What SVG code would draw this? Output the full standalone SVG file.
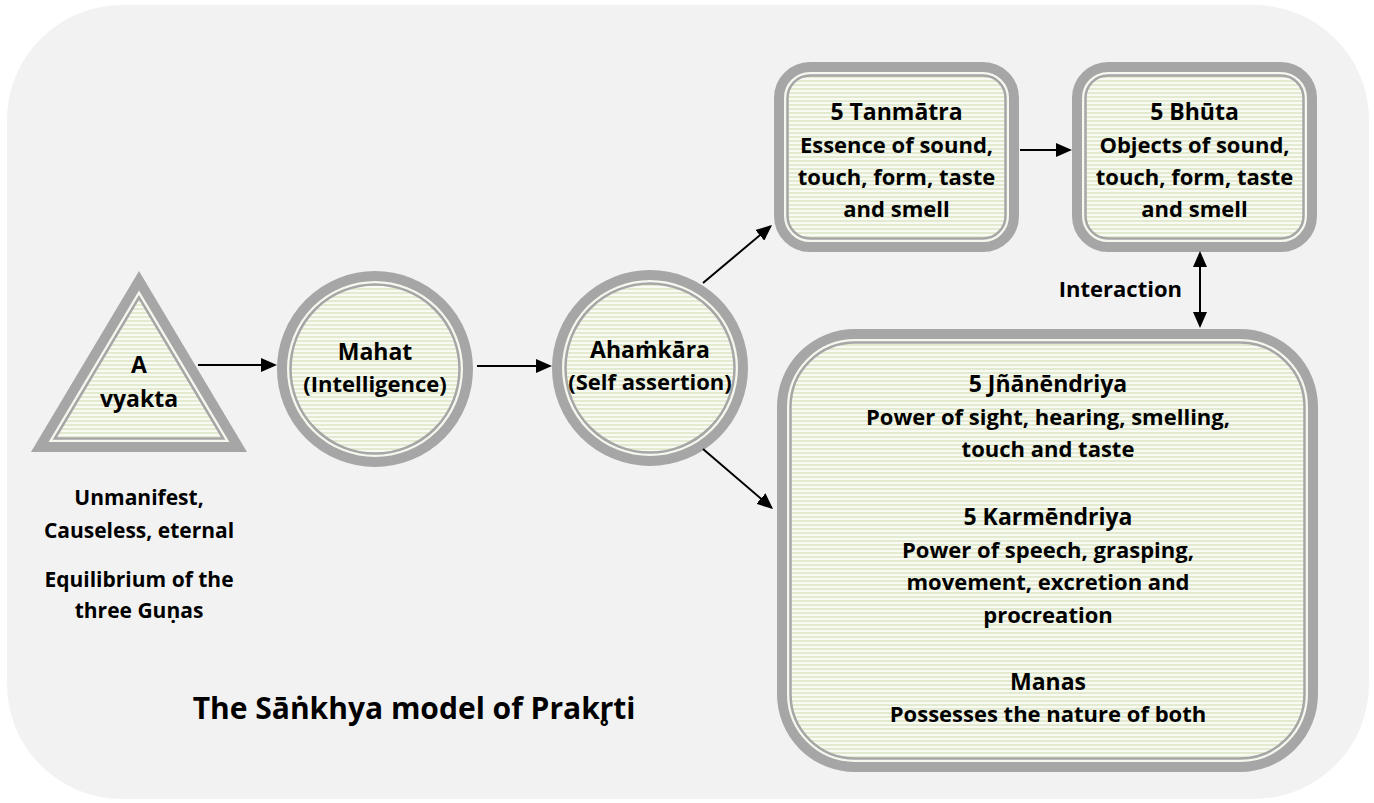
<svg xmlns="http://www.w3.org/2000/svg" width="1374" height="803" viewBox="0 0 1374 803">
<defs>
<pattern id="stripes" patternUnits="userSpaceOnUse" width="8" height="4">
<rect width="8" height="4" fill="#f9faf4"/>
<rect width="8" height="2" fill="#e2eacf"/>
</pattern>
<marker id="arr" markerUnits="userSpaceOnUse" markerWidth="16" markerHeight="14" refX="14" refY="7" orient="auto-start-reverse">
<path d="M0,0 L16,7 L0,14 z" fill="#000"/>
</marker>
</defs>
<style>
text{font-family:"Open Sans","Noto Sans","DejaVu Sans",sans-serif;font-weight:700;fill:#000;text-anchor:middle}
.band{fill:#f5f8ee;stroke:#a6a6a6;stroke-width:10}
.inner{fill:url(#stripes);stroke:#a6a6a6;stroke-width:2.5}
.h{font-size:23px}
.b{font-size:22px}
.s{font-size:21px}
.conn line{stroke:#000;stroke-width:2;marker-end:url(#arr)}
</style>
<rect x="7" y="5" width="1362" height="794" rx="115" fill="#f2f2f2"/>

<g id="avyakta">
<polygon class="band" points="139,280.8 39.8,447 238.2,447"/>
<polygon class="inner" points="139,297.4 54.8,438.5 223.2,438.5"/>
<text class="h" x="139" y="373">A</text>
<text class="h" x="139" y="407">vyakta</text>
</g>

<g id="avyakta-desc">
<text class="s" x="139" y="505">Unmanifest,</text>
<text class="s" x="139" y="538">Causeless, eternal</text>
<text class="s" x="139" y="587">Equilibrium of the</text>
<text class="s" x="139" y="618">three Guṇas</text>
</g>

<g id="mahat">
<circle class="band" cx="375" cy="369" r="93"/>
<circle class="inner" cx="375" cy="369" r="84.5"/>
<text class="h" x="375" y="360">Mahat</text>
<text class="b" x="375" y="392">(Intelligence)</text>
</g>

<g id="ahamkara">
<circle class="band" cx="650" cy="368" r="93"/>
<circle class="inner" cx="650" cy="368" r="84.5"/>
<text class="h" x="650" y="358">Ahaṁkāra</text>
<text class="b" x="650" y="390">(Self assertion)</text>
</g>

<g id="tanmatra">
<rect class="band" x="779" y="67" width="235" height="180" rx="31"/>
<rect class="inner" x="787.5" y="75.5" width="218" height="163" rx="22.5"/>
<text class="h" x="896.5" y="120">5 Tanmātra</text>
<text class="b" x="896.5" y="153">Essence of sound,</text>
<text class="b" x="896.5" y="185">touch, form, taste</text>
<text class="b" x="896.5" y="217">and smell</text>
</g>

<g id="bhuta">
<rect class="band" x="1077" y="67" width="235" height="180" rx="31"/>
<rect class="inner" x="1085.5" y="75.5" width="218" height="163" rx="22.5"/>
<text class="h" x="1194.5" y="120">5 Bhūta</text>
<text class="b" x="1194.5" y="153">Objects of sound,</text>
<text class="b" x="1194.5" y="185">touch, form, taste</text>
<text class="b" x="1194.5" y="217">and smell</text>
</g>

<g id="indriya">
<rect class="band" x="782" y="334" width="531" height="433" rx="73"/>
<rect class="inner" x="790.5" y="342.5" width="514" height="416" rx="64.5"/>
<text class="h" x="1048" y="392">5 Jñānēndriya</text>
<text class="b" x="1048" y="425">Power of sight, hearing, smelling,</text>
<text class="b" x="1048" y="457">touch and taste</text>
<text class="h" x="1048" y="525">5 Karmēndriya</text>
<text class="b" x="1048" y="558">Power of speech, grasping,</text>
<text class="b" x="1048" y="590">movement, excretion and</text>
<text class="b" x="1048" y="623">procreation</text>
<text class="h" x="1048" y="690">Manas</text>
<text class="b" x="1048" y="722">Possesses the nature of both</text>
</g>

<g id="title">
<text x="414" y="719" style="font-size:30px">The Sāṅkhya model of Prakr&#x325;ti</text>
</g>

<g id="interaction-label">
<text x="1182" y="297" style="text-anchor:end;font-size:22px">Interaction</text>
</g>

<g id="connectors" class="conn">
<line x1="198" y1="365" x2="275" y2="365"/>
<line x1="477" y1="366" x2="550" y2="366"/>
<line x1="703" y1="283" x2="770.5" y2="226.3"/>
<line x1="703" y1="449" x2="771.5" y2="507.7"/>
<line x1="1020" y1="150" x2="1070" y2="150"/>
<line x1="1200" y1="253" x2="1200" y2="326" style="marker-start:url(#arr)"/>
</g>
</svg>
